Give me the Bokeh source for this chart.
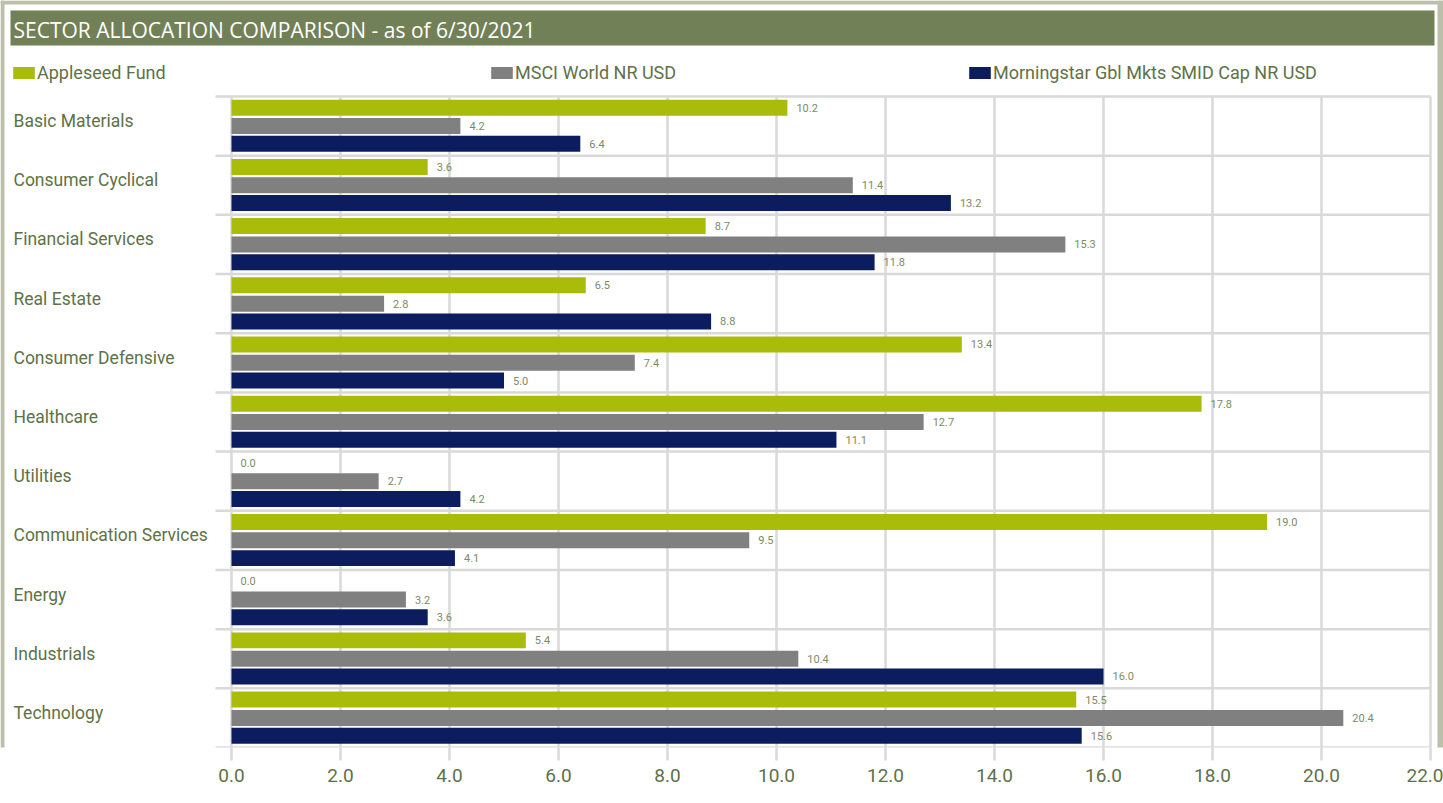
from bokeh.plotting import figure
from bokeh.models import (ColumnDataSource, Range1d, FixedTicker, Legend, LegendItem,
                          BoxAnnotation, Label, CustomJSTickFormatter)
from bokeh.core.properties import value
from bokeh.embed import file_html
from bokeh.resources import INLINE

categories = ["Basic Materials", "Consumer Cyclical", "Financial Services", "Real Estate",
              "Consumer Defensive", "Healthcare", "Utilities", "Communication Services",
              "Energy", "Industrials", "Technology"]
series_names = ["Appleseed Fund", "MSCI World NR USD", "Morningstar Gbl Mkts SMID Cap NR USD"]
appleseed = [10.2, 3.6, 8.7, 6.5, 13.4, 17.8, 0.0, 19.0, 0.0, 5.4, 15.5]
msci = [4.2, 11.4, 15.3, 2.8, 7.4, 12.7, 2.7, 9.5, 3.2, 10.4, 20.4]
morningstar = [6.4, 13.2, 11.8, 8.8, 5.0, 11.1, 4.2, 4.1, 3.6, 16.0, 15.6]
x_ticks = [0, 2, 4, 6, 8, 10, 12, 14, 16, 18, 20, 22]
title_text = "SECTOR ALLOCATION COMPARISON - as of 6/30/2021"

colors = ["#a9bc0a", "#808080", "#0b1d5e"]
offsets = [-0.31, 0.0, 0.30]
text_color = "#5e7247"
value_color = "#7d8a66"
grid_color = "#d9d9d9"
FONT = "Roboto"

W, H = 1443, 803
# layout geometry (pixels)
X0_PX, X22_PX = 231, 1430
ROW_TOP_PX, ROW_BOT_PX = 96, 747
n = len(categories)
ppu_x = (X22_PX - X0_PX) / x_ticks[-1]
ppu_y = (ROW_BOT_PX - ROW_TOP_PX) / n

p = figure(width=W, height=H, output_backend="svg", toolbar_location=None,
           x_range=Range1d(-X0_PX / ppu_x, (W - X0_PX) / ppu_x),
           y_range=Range1d(n, -ROW_TOP_PX / ppu_y),
           min_border_left=0, min_border_right=0, min_border_top=0, min_border_bottom=H - ROW_BOT_PX)
p.outline_line_color = None
p.background_fill_color = "white"
p.border_fill_color = "white"
p.xgrid.visible = False
p.ygrid.visible = False
p.yaxis.visible = False

# frame border bands
band = "#bcbfaa"
for l, r, t, b in [(0, 4, 0, H), (0, W, 0, 4), (W - 6, W, 0, H)]:
    p.add_layout(BoxAnnotation(left=l, right=r, top=t, bottom=b,
                               left_units="canvas", right_units="canvas",
                               top_units="canvas", bottom_units="canvas",
                               fill_color=band, fill_alpha=1, line_color=None, level="underlay"))

# grid lines (vertical) and category separators (horizontal)
p.segment(x0=x_ticks, x1=x_ticks, y0=[0] * len(x_ticks), y1=[n] * len(x_ticks),
          line_color=grid_color, line_width=2.5, level="underlay")
seps = list(range(n + 1))
p.segment(x0=[-16 / ppu_x] * len(seps), x1=[x_ticks[-1]] * len(seps), y0=seps, y1=seps,
          line_color=grid_color, line_width=2.5, level="underlay")

centers = [i + 0.5 for i in range(n)]
renderers = []
for vals, color, off, name in zip([appleseed, msci, morningstar], colors, offsets, series_names):
    src = ColumnDataSource(dict(y=[c + off for c in centers], right=vals,
                                lab=["%.1f" % v for v in vals]))
    r = p.hbar(y="y", right="right", left=0, height=0.27, source=src, fill_color=color,
               line_color=None)
    renderers.append((name, r))
    p.text(x="right", y="y", text="lab", source=src, x_offset=9,
           text_baseline="middle", text_font_size="11px",
           text_color=value_color, text_font=value(FONT))

# category labels
csrc = ColumnDataSource(dict(x=[0] * n, y=centers, t=categories))
p.text(x="x", y="y", text="t", source=csrc, x_offset=13 - X0_PX, y_offset=-5,
       text_align="left", text_baseline="middle", text_font_size="17.5px",
       text_color=text_color, text_font=value(FONT))

# x axis
p.xaxis.ticker = FixedTicker(ticks=x_ticks)
p.xaxis.formatter = CustomJSTickFormatter(code="return tick.toFixed(1);")
p.xaxis.axis_line_color = None
p.xaxis.major_tick_line_color = grid_color
p.xaxis.major_tick_line_width = 2.5
p.xaxis.major_tick_out = 13
p.xaxis.major_tick_in = 0
p.xaxis.minor_tick_line_color = None
p.xaxis.major_label_text_font = FONT
p.xaxis.major_label_text_font_size = "19px"
p.xaxis.major_label_text_color = text_color
p.xaxis.major_label_standoff = 8

# title bar
p.add_layout(BoxAnnotation(left=10, right=1434, top=10, bottom=45,
                           left_units="canvas", right_units="canvas",
                           top_units="canvas", bottom_units="canvas",
                           fill_color="#728058", fill_alpha=1, line_color=None, level="overlay"))
p.add_layout(Label(x=13, y=29, x_units="canvas", y_units="canvas", text=title_text,
                   text_font="Open Sans", text_font_size="21px", text_color="white",
                   text_baseline="middle", level="overlay"))

legend = Legend(items=[LegendItem(label=nm, renderers=[r]) for nm, r in renderers],
                orientation="horizontal", location=(10, 664),
                glyph_width=27, glyph_height=15, label_standoff=0, label_width=451,
                spacing=0, padding=0, margin=0,
                label_text_font=FONT, label_text_font_size="18px", label_text_color=text_color,
                border_line_alpha=0, background_fill_alpha=0)
p.add_layout(legend, "center")

open("out.html", "w").write(file_html(p, INLINE))
